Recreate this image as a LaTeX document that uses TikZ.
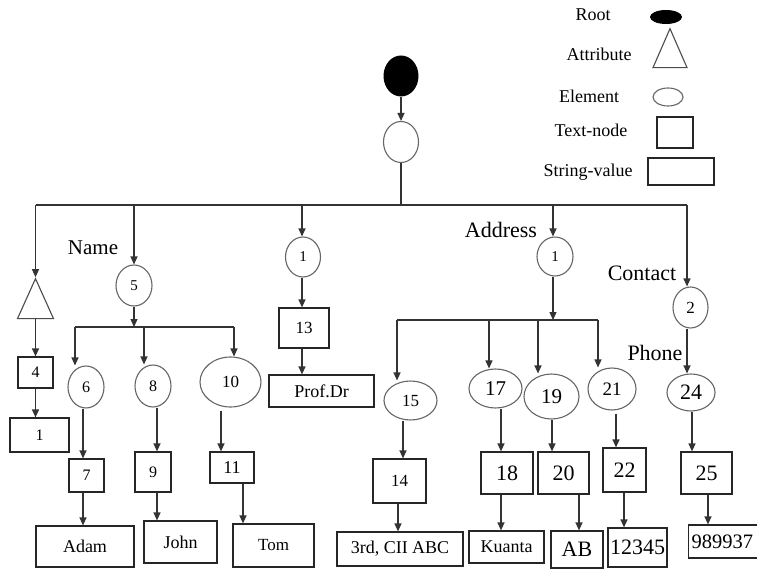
\documentclass[tikz,border=0pt]{standalone}
\usepackage{fontspec}
\setmainfont{Liberation Serif}
\usetikzlibrary{arrows.meta,shapes.geometric}
\newcommand\myfs[1]{\fontsize{#1}{#1}\selectfont}
\tikzset{
 ln/.style={draw=black!80, line width=1.2pt},
 arr/.style={ln, -{Triangle[length=8pt,width=7pt]}},
 elem/.style={ellipse, draw=black!60, line width=1.1pt, inner sep=0pt},
 tbox/.style={rectangle, draw=black!85, line width=1.2pt, inner sep=0pt},
 tri/.style={isosceles triangle, isosceles triangle stretches, shape border rotate=90, draw=black!70, line width=1.1pt, inner sep=0pt},
 lbl/.style={inner sep=0pt},
}
\begin{document}
\begin{tikzpicture}[x=1pt,y=-1pt]
\useasboundingbox (0,0) rectangle (757,569);
\clip (0,0) rectangle (757,569);
\fill[white] (0,0) rectangle (757,569);
% legend
\node[lbl,font=\myfs{18}] (lgR) at (593,15) {Root};
\node[lbl,font=\myfs{18}] (lgA) at (599,54) {Attribute};
\node[lbl,font=\myfs{18}] (lgE) at (589,96) {Element};
\node[lbl,font=\myfs{18}] (lgT) at (591,130) {Text-node};
\node[lbl,font=\myfs{18}] (lgS) at (588,172) {String-value};
\node[ellipse, fill=black, inner sep=0pt, minimum width=32, minimum height=14] (lsR) at (666,17) {};
\node[tri, minimum width=34, minimum height=39] (lsA) at (670,56.5) {};
\node[elem, minimum width=30, minimum height=18] (lsE) at (668,97) {};
\node[tbox, minimum width=36, minimum height=31] (lsT) at (675,132.5) {};
\node[tbox, minimum width=66, minimum height=27] (lsS) at (681,171.5) {};
% tree nodes
\node[ellipse, fill=black, inner sep=0pt, minimum width=35, minimum height=41] (r0) at (401,76) {};
\node[elem, minimum width=35, minimum height=41] (e0) at (401,142) {};
\coordinate (b0) at (401,205);
\coordinate (bL) at (35.5,205);
\coordinate (bR) at (687,205);
\node[tri, minimum width=36, minimum height=40] (tr) at (35.5,307) {};
\node[tbox, minimum width=35, minimum height=31, font=\myfs{16}] (t4) at (35.5,372.5) {4};
\node[tbox, minimum width=59, minimum height=34, font=\myfs{16}] (s1) at (39.5,435) {1};
% Name
\node[lbl, font=\myfs{21}] (lName) at (93,248) {Name};
\node[elem, minimum width=36, minimum height=41, font=\myfs{15}] (e5) at (134,285.5) {5};
\coordinate (b5) at (134,327);
\node[elem, minimum width=36, minimum height=42, font=\myfs{16}] (e6) at (86,387) {6};
\node[elem, minimum width=36, minimum height=42, font=\myfs{16}] (e8) at (153,386) {8};
\node[elem, minimum width=61, minimum height=50, font=\myfs{17}] (e10) at (230.5,382) {10};
\node[tbox, minimum width=35, minimum height=33, font=\myfs{16}] (t7) at (86.5,475.5) {7};
\node[tbox, minimum width=36, minimum height=40, font=\myfs{16}] (t9) at (153,472) {9};
\node[tbox, minimum width=44, minimum height=31, font=\myfs{18}] (t11) at (232,467.5) {11};
\node[tbox, minimum width=98, minimum height=41, font=\myfs{18}] (sAdam) at (85,546.5) {Adam};
\node[tbox, minimum width=73, minimum height=42, font=\myfs{18}] (sJohn) at (180.5,542) {John};
\node[tbox, minimum width=81, minimum height=43, font=\myfs{17}] (sTom) at (273.5,545.5) {Tom};
% title
\node[elem, minimum width=35, minimum height=40, font=\myfs{15}] (e1a) at (303,257) {1};
\node[tbox, minimum width=50, minimum height=40, font=\myfs{17}] (t13) at (304,328) {13};
\node[tbox, minimum width=105, minimum height=32, font=\myfs{18}] (sProf) at (321.5,391) {Prof.Dr};
% Address
\node[lbl, font=\myfs{22}] (lAddr) at (501,230) {Address};
\node[elem, minimum width=36, minimum height=39, font=\myfs{15}] (e1b) at (555,256.5) {1};
\coordinate (b1) at (553,320);
\node[elem, minimum width=53, minimum height=39, font=\myfs{17}] (e15) at (410.5,400.5) {15};
\node[elem, minimum width=53, minimum height=39, font=\myfs{21}] (e17) at (495.5,388.5) {17};
\node[elem, minimum width=55, minimum height=45, font=\myfs{21}] (e19) at (551.5,396.5) {19};
\node[elem, minimum width=48, minimum height=42, font=\myfs{19}] (e21) at (612,389) {21};
\node[tbox, minimum width=53, minimum height=44, font=\myfs{17}] (t14) at (399.5,481) {14};
\node[tbox, minimum width=52, minimum height=42, font=\myfs{22}] (t18) at (507,473) {18};
\node[tbox, minimum width=51, minimum height=42, font=\myfs{22}] (t20) at (563.5,473) {20};
\node[tbox, minimum width=43, minimum height=44, font=\myfs{22}] (t22) at (624.5,470) {22};
\node[tbox, minimum width=126, minimum height=34, font=\myfs{18}] (sAddr) at (400,549) {3rd, CII ABC};
\node[tbox, minimum width=75, minimum height=32, font=\myfs{18}] (sKu) at (506.5,547) {Kuanta};
\node[tbox, minimum width=52, minimum height=37, font=\myfs{22}] (sAB) at (577,549.5) {AB};
\node[tbox, minimum width=59, minimum height=39, font=\myfs{22}] (sZip) at (637.5,547.5) {12345};
% Contact
\node[lbl, font=\myfs{22}] (lCont) at (642,273) {Contact};
\node[elem, minimum width=35, minimum height=41, font=\myfs{17}] (e2) at (690.5,307.5) {2};
\node[lbl, font=\myfs{22}] (lPhone) at (655,353) {Phone};
\node[elem, minimum width=48, minimum height=37, font=\myfs{22}] (e24) at (691,392.5) {24};
\node[tbox, minimum width=51, minimum height=42, font=\myfs{22}] (t25) at (706.5,473) {25};
\node[tbox, minimum width=76, minimum height=33, anchor=west, align=left, text width=70, inner xsep=3pt, font=\myfs{20.5}] (sPh) at (688,541.5) {989937};
% connectors
\draw[arr] (r0.south) -- (e0.north);
\draw[ln] (e0.south) -- (b0);
\draw[ln] (bL) -- (bR);
\draw[arr] (bL) -- (tr.apex);
\draw[arr] (134,205) -- (e5.north);
\draw[arr] (302,205) -- (302,0 |- e1a.north);
\draw[arr] (553,205) -- (553,0 |- e1b.north);
\draw[arr] (bR) -- (687,0 |- e2.north);
\draw[arr] (tr.lower side) -- (t4.north);
\draw[arr] (t4.south) -- (35.5,0 |- s1.north);
% Name subtree
\draw[arr] (e5.south) -- (b5);
\draw[ln] (75,327) -- (234,327);
\draw[arr] (75,327) -- (75,0 |- e6.north);
\draw[arr] (144,327) -- (144,0 |- e8.north);
\draw[arr] (234,327) -- (234,0 |- e10.north);
\draw[arr] (83,0 |- e6.south) -- (83,0 |- t7.north);
\draw[arr] (83,0 |- t7.south) -- (83,0 |- sAdam.north);
\draw[arr] (157,0 |- e8.south) -- (157,0 |- t9.north);
\draw[arr] (157,0 |- t9.south) -- (157,0 |- sJohn.north);
\draw[arr] ([yshift=-3pt]221,0 |- e10.south) -- (221,0 |- t11.north);
\draw[arr] (243,0 |- t11.south) -- (243,0 |- sTom.north);
% title subtree
\draw[arr] (302,0 |- e1a.south) -- (302,0 |- t13.north);
\draw[arr] (302,0 |- t13.south) -- (302,0 |- sProf.north);
% Address subtree
\draw[arr] (e1b.south -| b1) -- (b1);
\draw[ln] (397,320) -- (598,320);
\draw[arr] (397,320) -- (397,0 |- e15.north);
\draw[arr] (489,320) -- (489,0 |- e17.north);
\draw[arr] (538,320) -- (538,0 |- e19.north);
\draw[arr] (598,320) -- (598,0 |- e21.north);
\draw[arr] (403,0 |- e15.south) -- (403,0 |- t14.north);
\draw[arr] (398,0 |- t14.south) -- (398,0 |- sAddr.north);
\draw[arr] (501,0 |- e17.south) -- (501,0 |- t18.north);
\draw[arr] (501,0 |- t18.south) -- (501,0 |- sKu.north);
\draw[arr] (552,0 |- e19.south) -- (552,0 |- t20.north);
\draw[arr] (579,0 |- t20.south) -- (579,0 |- sAB.north);
\draw[arr] ([yshift=-3pt]616,0 |- e21.south) -- (616,0 |- t22.north);
\draw[arr] (624,0 |- t22.south) -- (624,0 |- sZip.north);
% Contact subtree
\draw[arr] (687,0 |- e2.south) -- (687,0 |- e24.north);
\draw[arr] (692,0 |- e24.south) -- (692,0 |- t25.north);
\draw[arr] (708,0 |- t25.south) -- (708,0 |- sPh.north);
\end{tikzpicture}
\end{document}
